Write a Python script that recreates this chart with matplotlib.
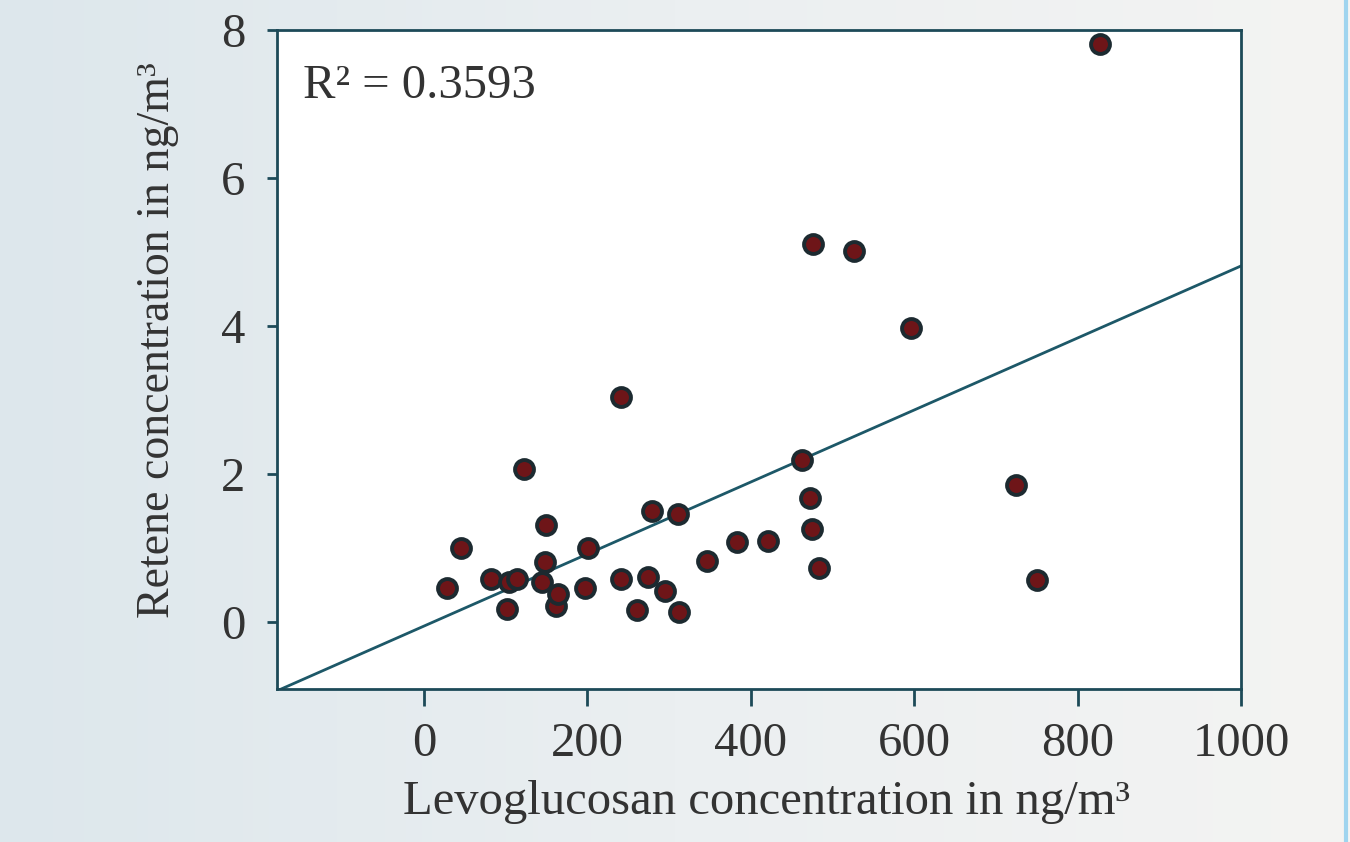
import matplotlib.pyplot as plt
import numpy as np
from matplotlib.colors import LinearSegmentedColormap

# levoglucosan vs retene (ng/m3)
levoglucosan = [28, 45, 82, 102, 104, 114, 122, 144, 149, 148, 161, 164,
                197, 201, 241, 241, 261, 274, 279, 295, 311, 312, 346, 383,
                421, 462, 472, 475, 476, 483, 526, 596, 724, 750, 827]
retene = [0.47, 1.01, 0.59, 0.18, 0.54, 0.59, 2.07, 0.54, 1.31, 0.82, 0.22, 0.38,
          0.47, 1.01, 3.05, 0.59, 0.17, 0.61, 1.50, 0.43, 1.46, 0.14, 0.83, 1.09,
          1.10, 2.19, 1.68, 1.26, 5.11, 0.73, 5.01, 3.97, 1.85, 0.57, 7.81]
r2_text = "R² = 0.3593"
xticks = [0, 200, 400, 600, 800, 1000]
yticks = [0, 2, 4, 6, 8]


def main():
    plt.rcParams["font.family"] = ["Liberation Serif", "DejaVu Serif"]

    fig = plt.figure(figsize=(13.5, 8.42), dpi=100)

    # soft bluish background gradient
    bg = fig.add_axes([0, 0, 1, 1], zorder=-10)
    grad = np.linspace(0, 1, 256).reshape(1, -1)
    cmap = LinearSegmentedColormap.from_list("bg", ["#dde7ec", "#ebeff1", "#f4f4f3"])
    bg.imshow(grad, aspect="auto", cmap=cmap, extent=[0, 1, 0, 1])
    bg.axvline(0.997, color="#9fd4ef", lw=3)
    bg.set_xlim(0, 1)
    bg.set_ylim(0, 1)
    bg.axis("off")

    ax = fig.add_axes([0.2052, 0.1817, 0.7141, 0.7827])
    ax.set_facecolor("white")

    x = np.array(levoglucosan, dtype=float)
    y = np.array(retene, dtype=float)
    slope, intercept = np.polyfit(x, y, 1)
    xl = np.array([-180, 1000])
    ax.plot(xl, intercept + slope * xl, color="#1d5868", lw=2, zorder=2)

    ax.scatter(x, y, s=185, facecolor="#6e1518", edgecolor="#1c2a30",
               linewidth=2.8, zorder=3)

    ax.set_xlim(-180, 1000)
    ax.set_ylim(-0.9, 8)
    ax.set_xticks(xticks)
    ax.set_yticks(yticks)

    for s in ax.spines.values():
        s.set_color("#1d4a58")
        s.set_linewidth(2)
    ax.tick_params(axis="x", direction="out", length=12, width=2,
                   color="#1d4a58", labelsize=35, labelcolor="#333333", pad=12)
    ax.tick_params(axis="y", direction="out", length=7, width=2,
                   color="#1d4a58", labelsize=35, labelcolor="#333333", pad=16)

    ax.set_xlabel("Levoglucosan concentration in ng/m³", fontsize=35,
                  color="#333333")
    ax.xaxis.set_label_coords(0.508, -0.138)
    ax.set_ylabel("Retene concentration in ng/m³", fontsize=33,
                  color="#333333")
    ax.yaxis.set_label_coords(-0.102, 0.53)

    ax.text(0.027, 0.915, r2_text, transform=ax.transAxes, fontsize=35,
            color="#333333", va="center", ha="left")

    fig.savefig("out.png", dpi=100)


if __name__ == "__main__":
    main()
